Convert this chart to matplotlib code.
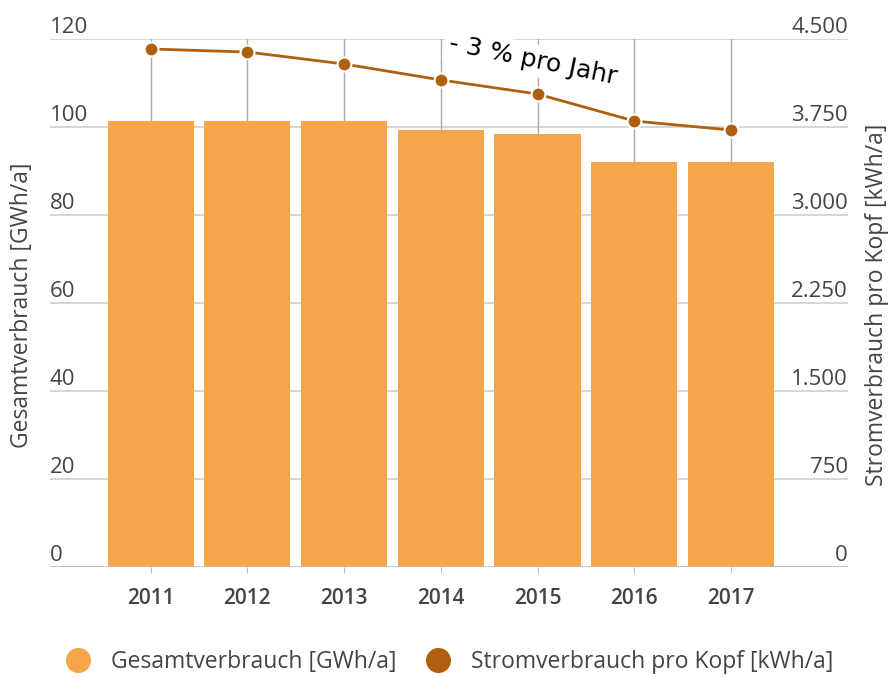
import matplotlib
matplotlib.use("Agg")
import matplotlib.pyplot as plt
from matplotlib.lines import Line2D
import numpy as np

# data
years = ["2011", "2012", "2013", "2014", "2015", "2016", "2017"]
gesamt = [101.4, 101.4, 101.4, 99.3, 98.4, 92.0, 92.0]          # GWh/a
pro_kopf = [4415, 4389, 4287, 4151, 4031, 3801, 3724]           # kWh/a
left_ticks = [0, 20, 40, 60, 80, 100, 120]
right_ticks = [0, 750, 1500, 2250, 3000, 3750, 4500]
right_labels = ["0", "750", "1.500", "2.250", "3.000", "3.750", "4.500"]

bar_col = "#F7A54A"
line_col = "#B05F0E"
txt_col = "#444444"
grid_col = "#cfcfcf"

plt.rcParams["font.family"] = ["Open Sans", "DejaVu Sans"]

fig = plt.figure(figsize=(8.89, 6.77), dpi=100)
ax = fig.add_axes([50 / 889, 1 - 567 / 677, 798 / 889, 528 / 677])
ax2 = ax.twinx()

x = np.arange(len(years))
ax.bar(x, gesamt, width=0.89, color=bar_col, zorder=2)
ax.set_ylim(0, 120)
ax.set_xlim(-1.04, 7.21)

# horizontal grid + vertical lines at categories
for v in left_ticks[1:]:
    ax.axhline(v, color=grid_col, lw=1.2, zorder=0)
ax.axhline(0, color="#bbbbbb", lw=2, zorder=3)
for xi in x:
    ax.axvline(xi, color="#aaaaaa", lw=1, zorder=1)

ax.set_xticks(x)
ax.set_xticklabels(years, fontsize=15, color=txt_col, fontweight="semibold")
ax.tick_params(axis="x", length=4, color="#bbbbbb", pad=11)
ax.set_yticks([])
for s in ax.spines.values():
    s.set_visible(False)

# left tick labels sit above the gridlines
for v in left_ticks:
    ax.text(0.0, v + 1.4, str(v), transform=ax.get_yaxis_transform(),
            ha="left", va="baseline", fontsize=16, color=txt_col)

ax2.set_ylim(0, 4500)
ax2.plot(x, pro_kopf, color=line_col, lw=2, marker="o", ms=10,
         mfc=line_col, mec="white", mew=1.5, zorder=5)
ax2.set_yticks([])
for s in ax2.spines.values():
    s.set_visible(False)
for v, lab in zip(right_ticks, right_labels):
    ax2.text(1.0, v + 52, lab, transform=ax2.get_yaxis_transform(),
             ha="right", va="baseline", fontsize=16, color=txt_col)

ax.set_zorder(1)
ax2.set_zorder(2)
ax2.patch.set_visible(False)

fig.text(22 / 889, 1 - 305 / 677, "Gesamtverbrauch [GWh/a]", rotation=90,
         ha="center", va="center", fontsize=16.5, color=txt_col)
fig.text(877 / 889, 1 - 305 / 677, "Stromverbrauch pro Kopf [kWh/a]", rotation=90,
         ha="center", va="center", fontsize=16.5, color=txt_col)

ax2.text(3.95, 4321, "- 3 % pro Jahr", rotation=-11.5, ha="center", va="center",
         fontsize=18, family="DejaVu Sans", color="black", zorder=6,
         bbox=dict(facecolor="white", edgecolor="none", pad=3))

handles = [Line2D([], [], ls="", marker="o", ms=17, color=bar_col),
           Line2D([], [], ls="", marker="o", ms=17, color=line_col)]
fig.legend(handles, ["Gesamtverbrauch [GWh/a]", "Stromverbrauch pro Kopf [kWh/a]"],
           loc="center", bbox_to_anchor=(0.5, 1 - 662 / 677), ncol=2,
           frameon=False, fontsize=16.5, handletextpad=0.45, columnspacing=0.8,
           labelcolor=txt_col, borderpad=0)

fig.savefig("out.png", dpi=100)
